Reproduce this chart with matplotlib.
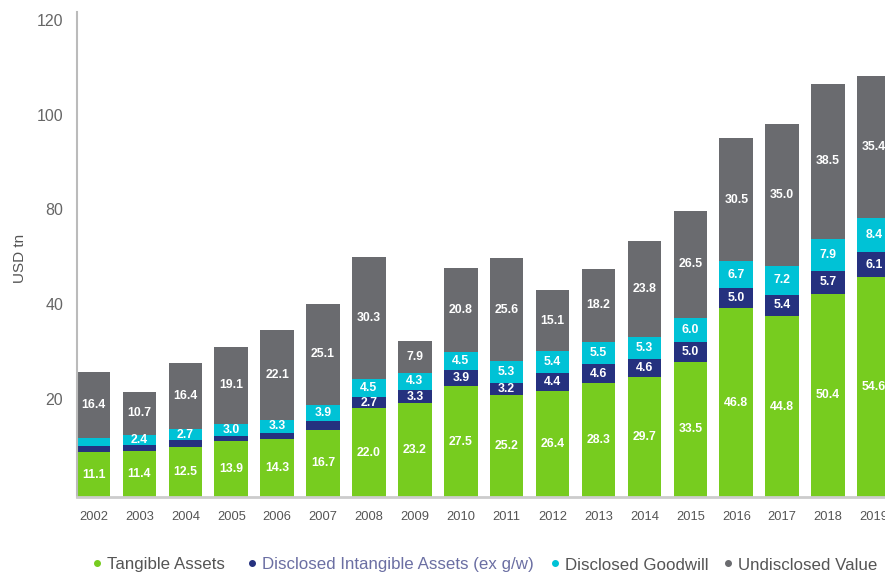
import matplotlib.pyplot as plt
from matplotlib.lines import Line2D
import numpy as np

plt.rcParams['font.family'] = ['Liberation Sans', 'DejaVu Sans']

# data (USD tn)
years = ['2002', '2003', '2004', '2005', '2006', '2007', '2008', '2009', '2010',
         '2011', '2012', '2013', '2014', '2015', '2016', '2017', '2018', '2019']
tangible = [11.1, 11.4, 12.5, 13.9, 14.3, 16.7, 22.0, 23.2, 27.5,
            25.2, 26.4, 28.3, 29.7, 33.5, 46.8, 44.8, 50.4, 54.6]
intangible = [1.6, 1.6, 1.6, 1.3, 1.6, 2.2, 2.7, 3.3, 3.9,
              3.2, 4.4, 4.6, 4.6, 5.0, 5.0, 5.4, 5.7, 6.1]
goodwill = [1.9, 2.4, 2.7, 3.0, 3.3, 3.9, 4.5, 4.3, 4.5,
            5.3, 5.4, 5.5, 5.3, 6.0, 6.7, 7.2, 7.9, 8.4]
undisclosed = [16.4, 10.7, 16.4, 19.1, 22.1, 25.1, 30.3, 7.9, 20.8,
               25.6, 15.1, 18.2, 23.8, 26.5, 30.5, 35.0, 38.5, 35.4]
series_names = ['Tangible Assets', 'Disclosed Intangible Assets (ex g/w)',
                'Disclosed Goodwill', 'Undisclosed Value']
ytick_labels = ['20', '40', '80', '100', '120']

colors = ['#77CC1F', '#25317F', '#00C2D6', '#6A6B6F']
legend_text_colors = ['#555555', '#6B6FA3', '#555555', '#555555']

W, H = 885, 574
fig = plt.figure(figsize=(W / 100, H / 100), dpi=100)
ax = fig.add_axes([77 / W, 1 - 497 / H, 1 - 77 / W, 485 / H])

x = np.arange(len(years))
bottom = np.zeros(len(years))
for vals, col in zip([tangible, intangible, goodwill, undisclosed], colors):
    vals = np.array(vals)
    ax.bar(x, vals, width=0.73, bottom=bottom, color=col, edgecolor='none', zorder=2)
    # small segments carry no label in the original
    for xi, b, v in zip(x, bottom, vals):
        if v >= 2.4:
            ax.text(xi, b + v / 2, f'{v:.1f}', ha='center', va='center',
                    color='white', fontsize=8.8, fontweight='bold', zorder=3)
    bottom += vals

ax.set_xlim(-0.36, 17.24)
ax.set_ylim(0, 120.3)
ax.set_xticks(x)
ax.set_xticklabels(years, fontsize=9.3, color='#555555')
ax.set_yticks(np.linspace(24.3, 118.4, 5))
ax.set_yticklabels(ytick_labels, fontsize=11.5, color='#666666')
ax.tick_params(axis='both', length=0)
ax.tick_params(axis='y', pad=10)
ax.tick_params(axis='x', pad=10)

for s in ['top', 'right']:
    ax.spines[s].set_visible(False)
ax.spines['left'].set_color('#BBBBBB')
ax.spines['left'].set_linewidth(1.5)
ax.spines['bottom'].set_color('#CCCCCC')
ax.spines['bottom'].set_linewidth(2)

fig.text(20 / W, 1 - 258 / H, 'USD tn', rotation=90, ha='center', va='center',
         fontsize=11, color='#555555')

# legend laid out by hand: dot + label per series
dot_x = [97, 252, 555, 728]
leg_y = 1 - 565 / H
for dx, name, c, tc in zip(dot_x, series_names, colors, legend_text_colors):
    fig.add_artist(Line2D([dx / W], [leg_y + 2 / H], marker='o', markersize=4, linestyle='none',
                          markerfacecolor=c, markeredgecolor=c, transform=fig.transFigure))
    fig.text((dx + 10) / W, leg_y, name, ha='left', va='center', fontsize=12.2, color=tc)

fig.savefig('out.png', dpi=100)
